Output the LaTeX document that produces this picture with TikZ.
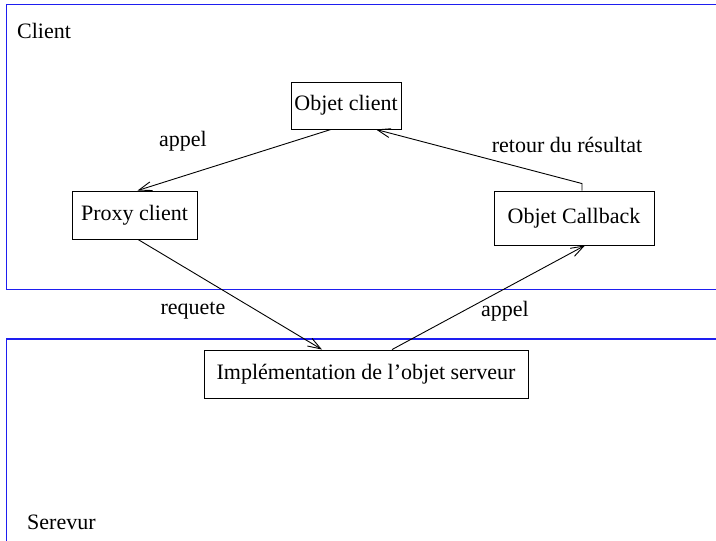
\documentclass[tikz,border=0pt]{standalone}
\usepackage{fontspec}
\setmainfont{Liberation Serif}
\usetikzlibrary{arrows.meta,calc}
\tikzset{
  box/.style={draw=black, line width=0.9pt, inner sep=0pt, font=\fontsize{22}{26}\selectfont},
  lbl/.style={inner sep=0pt, font=\fontsize{22}{26}\selectfont},
  conn/.style={draw=black, line width=0.9pt, -{Straight Barb[length=13pt,width=9pt,line width=0.9pt]}},
  frame/.style={draw={rgb,255:red,30;green,30;blue,240}, line width=1.6pt}
}
\begin{document}
\begin{tikzpicture}[x=1pt,y=-1pt]
\useasboundingbox (0,0) rectangle (716,541);
% frames
\draw[frame] (730,4.5) -- (6.5,4.5) -- (6.5,289.5) -- (730,289.5);
\draw[frame] (730,339) -- (6.5,339) -- (6.5,560);
\node[lbl, anchor=west] (tclient) at (17,31) {Client};
\node[lbl, anchor=west] (tserveur) at (27,522) {Serevur};
% boxes
\node[box, minimum width=110pt, minimum height=47pt] (oc) at (346,105.5) {Objet client};
\node[box, minimum width=125pt, minimum height=48pt] (px) at (134.5,215) {Proxy client};
\node[box, minimum width=160pt, minimum height=54pt] (cb) at (574,218) {Objet Callback};
\node[box, minimum width=324pt, minimum height=48pt] (im) at (366,374) {Implémentation de l’objet serveur};
% labels
\node[lbl] (l1) at (183,141) {appel};
\node[lbl] (l2) at (567,145) {retour du résultat};
\node[lbl] (l3) at (193,311) {requete};
\node[lbl] (l4) at (505,311) {appel};
% connectors
\draw[conn] ($(oc.south)+(-15,0)$) -- ($(px.north)+(3,0)$);
\draw[conn] ($(cb.north)+(8,0)$) -- ($(cb.north)+(8,-7)$) -- ($(oc.south)+(30,0)$);
\draw[conn] ($(px.south)+(3.5,0)$) -- ($(im.north)+(-44,0)$);
\draw[conn] ($(im.north)+(26,0)$) -- ($(cb.south)+(11,0)$);
\end{tikzpicture}
\end{document}
